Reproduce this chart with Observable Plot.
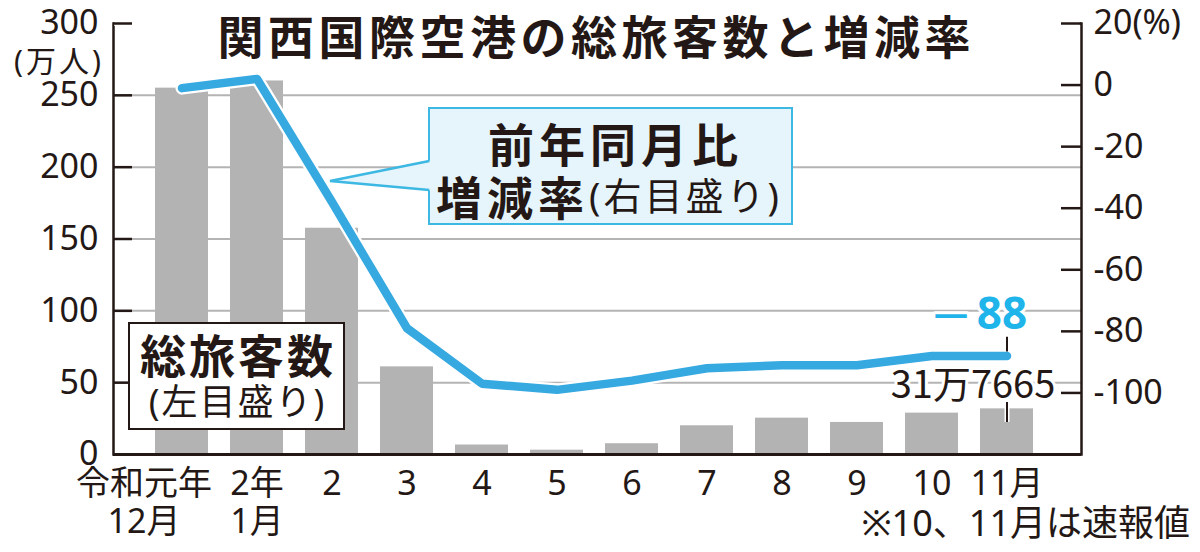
<!DOCTYPE html>
<html><head><meta charset="utf-8">
<script src="https://cdn.jsdelivr.net/npm/d3@7"></script>
<script src="https://cdn.jsdelivr.net/npm/@observablehq/plot@0.6"></script>
<style>
body{margin:0;background:#fff;}
#wrap{position:relative;width:1200px;height:552px;overflow:hidden;font-family:"Noto Sans","Noto Sans CJK JP",sans-serif;color:#231815;}
.abs{position:absolute;white-space:nowrap;line-height:1;}
.bold{font-family:"Noto Sans CJK JP",sans-serif;font-weight:700;}
.cjk{font-family:"Noto Sans","Noto Sans CJK JP",sans-serif;font-weight:400;}
</style></head><body><div id="wrap"></div>
<script>
// ---- data ----
const categories = ["令和元年12月","2年1月","2","3","4","5","6","7","8","9","10","11月"];
const tickLabels = ["令和元年\n12月","2年\n1月","2","3","4","5","6","7","8","9","10","11月"];
const passengers = [255, 260, 157.5, 61, 6.6, 3, 7.5, 20, 25.3, 22.3, 28.8, 31.7665]; // 万人
const rates = [-1, 2, -38, -79, -97, -99, -96, -92, -91, -91, -88, -88]; // %
const leftTicks = [0, 50, 100, 150, 200, 250, 300];
const gridTicks = [50, 100, 150, 200, 250];
const rightTicks = [20, 0, -20, -40, -60, -80, -100];
const leftDomain = [0, 300];
const rightDomain = [-120, 20];

// ---- helpers ----
const toLeft = p => (p - rightDomain[0]) * (leftDomain[1] - leftDomain[0]) / (rightDomain[1] - rightDomain[0]);
const toRight = v => v * (rightDomain[1] - rightDomain[0]) / (leftDomain[1] - leftDomain[0]) + rightDomain[0];
const data = categories.map((c, i) => ({c, pax: passengers[i], rate: rates[i], yr: toLeft(rates[i])}));
const last = [data[data.length - 1]];

const W = 1200, H = 552, mL = 113, mR = 119, mT = 23, mB = 98;
const frameW = W - mL - mR;
const ink = "#231815";
const blue = "#36a9e1";
const cyan = "#1fb4ea";
const font = "'Noto Sans','Noto Sans CJK JP',sans-serif";

const chart = Plot.plot({
  width: W, height: H,
  marginLeft: mL, marginRight: mR, marginTop: mT, marginBottom: mB,
  style: {fontFamily: font, color: ink, background: "transparent", overflow: "visible"},
  x: {type: "band", domain: categories, paddingInner: 0.3, paddingOuter: 0.545, align: 0.46},
  y: {domain: leftDomain},
  marks: [
    Plot.ruleY(gridTicks, {stroke: "#b4b4b4", strokeWidth: 2}),
    Plot.barY(data, {x: "c", y: "pax", fill: "#b3b3b3"}),
    // axis box: left, right and bottom edges (top edge covered)
    Plot.frame({stroke: ink, strokeWidth: 2.5}),
    Plot.ruleY([leftDomain[1]], {stroke: "#fff", strokeWidth: 5, insetLeft: 1.3, insetRight: 1.3}),
    Plot.ruleY([0], {stroke: ink, strokeWidth: 3}),
    Plot.ruleY(leftTicks, {stroke: ink, strokeWidth: 2.5, insetRight: frameW - 19}),
    Plot.ruleY(rightTicks.map(toLeft), {stroke: ink, strokeWidth: 2.5, insetLeft: frameW - 20}),
    Plot.axisY(leftTicks, {anchor: "left", tickSize: 0, tickPadding: 15, fontSize: 34, label: null}),
    Plot.axisY(rightTicks.map(toLeft), {anchor: "right", tickSize: 0, tickPadding: 12, fontSize: 34, label: null,
      tickFormat: v => { const p = Math.round(toRight(v)); return p === rightTicks[0] ? p + "(%)" : String(p); }}),
    Plot.axisX(categories.slice(1), {anchor: "bottom", tickSize: 0, tickPadding: 13, fontSize: 34, lineHeight: 1.12, label: null,
      tickFormat: c => tickLabels[categories.indexOf(c)]}),
    Plot.axisX(categories.slice(0, 1), {anchor: "bottom", tickSize: 0, tickPadding: 13, fontSize: 34, lineHeight: 1.12, label: null, dx: -38,
      tickFormat: c => tickLabels[categories.indexOf(c)]}),
    // connector from bar top to its label
    Plot.ruleX(last, {x: "c", y1: d => d.pax + 4.4, y2: d => d.pax - 9.5, stroke: "#fff", strokeWidth: 5}),
    Plot.ruleX(last, {x: "c", y1: d => d.pax + 4.4, y2: d => d.pax - 9.5, stroke: ink, strokeWidth: 2}),
    // rate line
    Plot.line(data, {x: "c", y: "yr", stroke: "#fff", strokeWidth: 13}),
    Plot.line(data, {x: "c", y: "yr", stroke: blue, strokeWidth: 8.5}),
    // connector from line end to label
    Plot.ruleX(last, {x: "c", y1: d => d.yr + 2.8, y2: d => d.yr + 13, stroke: ink, strokeWidth: 2}),
    Plot.text(last, {x: "c", y: "yr", text: d => String(-d.rate), dx: -5, dy: -41, fontSize: 44, fontWeight: "bold",
      fill: cyan, stroke: "#fff", strokeWidth: 6, paintOrder: "stroke", fontFamily: font}),
    Plot.text(last, {x: "c", y: "yr", text: () => "—", dx: -56, dy: -42, fontSize: 34, fontWeight: "bold",
      fill: cyan, stroke: "#fff", strokeWidth: 6, paintOrder: "stroke", fontFamily: font}),
    Plot.text(last, {x: "c", y: "pax", text: d => Math.floor(d.pax) + "万" + Math.round((d.pax % 1) * 10000),
      dx: -34, dy: -23, fontSize: 38, fill: ink, stroke: "#fff", strokeWidth: 6, paintOrder: "stroke",
      fontFamily: "'Liberation Sans Narrow','Noto Sans CJK JP',sans-serif"})
  ]
});

const wrap = document.getElementById("wrap");
wrap.appendChild(chart);

const overlay = document.createElement("div");
overlay.innerHTML = `
<div class="abs bold" style="left:594px;top:11px;font-size:46px;letter-spacing:4.5px;padding-left:4.5px;transform:translateX(-50%);">関西国際空港の総旅客数と増減率</div>
<div class="abs cjk" style="right:${1200-104}px;top:46px;font-size:30px;letter-spacing:3px;">(万人)</div>
<div class="abs" style="left:128px;top:322px;width:217px;height:108px;box-sizing:border-box;border:2.5px solid ${ink};background:#fff;"></div>
<div class="abs bold" style="left:236.5px;top:330px;font-size:46px;letter-spacing:3px;padding-left:3px;transform:translateX(-50%);">総旅客数</div>
<div class="abs cjk" style="left:236.5px;top:384px;font-size:36px;letter-spacing:2px;padding-left:2px;transform:translateX(-50%);">(左目盛り)</div>
<div class="abs" style="left:428px;top:107px;width:365px;height:118px;box-sizing:border-box;border:2.5px solid #3cb8e3;background:#e6f4fb;"></div>
<svg class="abs" style="left:0;top:0;" width="1200" height="552">
  <path d="M431,160.5 L330,181 L431,190.5 Z" fill="#e6f4fb" stroke="none"/>
  <path d="M429.3,161 L330,181 L429.3,190" fill="none" stroke="#3cb8e3" stroke-width="2.5" stroke-linejoin="miter"/>
</svg>
<div class="abs bold" style="left:613px;top:119px;font-size:46px;letter-spacing:5px;padding-left:5px;transform:translateX(-50%);">前年同月比</div>
<div class="abs" style="left:436px;top:172px;height:46px;display:flex;align-items:center;">
  <span class="bold" style="font-size:46px;letter-spacing:5px;line-height:1;">増減率</span><span class="cjk" style="font-size:38px;letter-spacing:3px;line-height:1;">(右目盛り)</span>
</div>
<div class="abs cjk" style="right:10px;top:505px;font-size:36px;">※10、11月は速報値</div>
`;
while (overlay.firstChild) wrap.appendChild(overlay.firstChild);
</script>
</body></html>
